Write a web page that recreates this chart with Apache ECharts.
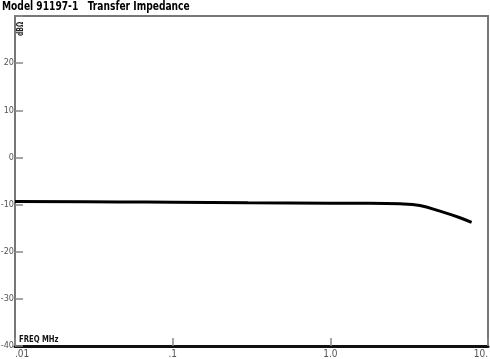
<!DOCTYPE html>
<html>
<head>
<meta charset="utf-8">
<script src="https://cdn.jsdelivr.net/npm/echarts@6/dist/echarts.min.js"></script>
<style>
html,body{margin:0;padding:0;background:#fff;}
#c{width:490px;height:359px;}
</style>
</head>
<body>
<div id="c"></div>
<script>
var title = "Model 91197-1   Transfer Impedance";
var yUnit = "dB\u03A9";
var xUnit = "FREQ MHz";
var freqMHz = [0.01, 0.046, 0.1, 0.3, 1.0, 1.54, 2.76, 3.7, 4.96, 6.64, 7.87];
var impedanceDb = [-9.36, -9.45, -9.5, -9.6, -9.7, -9.72, -9.85, -10.2, -11.4, -12.8, -13.8];
var xTickLabels = {"0.01": ".01", "0.1": ".1", "1": "1.0", "10": "10."};

var fontFam = "DejaVu Sans Condensed";
var chart = echarts.init(document.getElementById('c'), null, {renderer: 'canvas'});
var pts = freqMHz.map(function (f, i) { return [f, impedanceDb[i]]; });

chart.setOption({
  animation: false,
  backgroundColor: '#fff',
  graphic: [
    {type: 'text', x: 2, y: 0, scaleX: 0.78, z: 100,
     style: {text: title, fontFamily: 'DejaVu Sans Condensed', fontWeight: 'bold', fontSize: 13, fill: '#000', textAlign: 'left', textVerticalAlign: 'top'}},
    {type: 'text', x: 21, y: 29, rotation: Math.PI / 2, scaleX: 0.85, z: 100,
     style: {text: yUnit, fontFamily: 'DejaVu Sans Condensed', fontWeight: 'bold', fontSize: 8, fill: '#222', textAlign: 'center', textVerticalAlign: 'middle'}},
    {type: 'text', x: 19, y: 340, scaleX: 0.85, z: 100,
     style: {text: xUnit, fontFamily: 'DejaVu Sans Condensed', fontWeight: 'bold', fontSize: 9, fill: '#111', textAlign: 'left', textVerticalAlign: 'middle'}}
  ],
  grid: {left: 15, right: 2, top: 16, bottom: 13, containLabel: false, outerBoundsMode: 'none',
         show: true, borderColor: '#777', borderWidth: 2, backgroundColor: '#fff'},
  xAxis: {
    type: 'log', logBase: 10, min: 0.01, max: 10,
    axisLine: {show: true, onZero: false, lineStyle: {color: '#111', width: 3}},
    axisTick: {show: true, inside: true, length: 8, lineStyle: {color: '#888', width: 1.5}},
    splitLine: {show: false},
    minorTick: {show: false},
    axisLabel: {
      fontFamily: fontFam, fontSize: 10, color: '#555', margin: 3,
      alignMinLabel: 'left', alignMaxLabel: 'right',
      formatter: function (v) {
        var k = String(+v.toPrecision(3));
        return xTickLabels[k] !== undefined ? xTickLabels[k] : '';
      }
    }
  },
  yAxis: {
    type: 'value', min: -40, max: 30, interval: 10,
    axisLine: {show: true, onZero: false, lineStyle: {color: '#777', width: 2}},
    axisTick: {show: true, inside: true, length: 8, lineStyle: {color: '#888', width: 1.5}},
    splitLine: {show: false},
    axisLabel: {
      fontFamily: fontFam, fontSize: 9, color: '#555', margin: 1,
      formatter: function (v) { return v === 30 ? '' : String(v); }
    }
  },
  series: [{
    type: 'line', data: pts, smooth: 0.4, showSymbol: false,
    lineStyle: {color: '#000', width: 3}
  }]
});
</script>
</body>
</html>
